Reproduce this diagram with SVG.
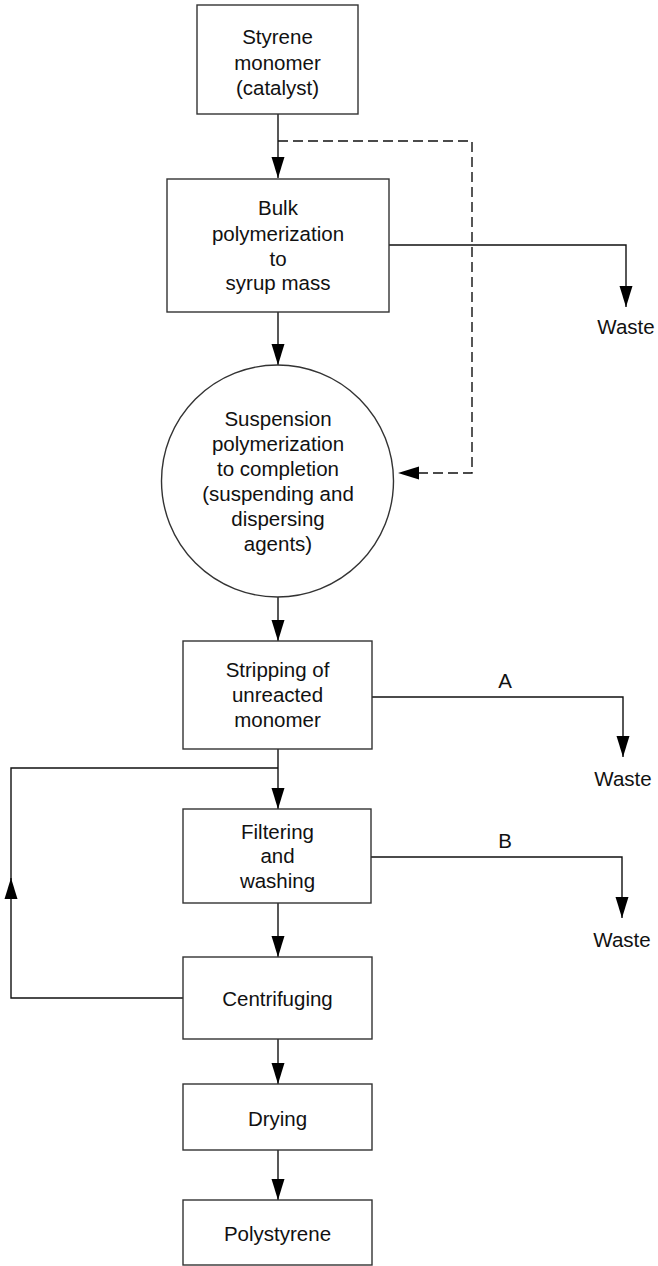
<svg xmlns="http://www.w3.org/2000/svg" width="658" height="1266" viewBox="0 0 658 1266">
  <style>
    .box { fill: #fff; stroke: #333; stroke-width: 1.4; }
    .lbl { font-family: "Liberation Sans", Arial, Helvetica, sans-serif; font-size: 20.5px; fill: #111; text-anchor: middle; }
    .flow { fill: none; stroke: #111; stroke-width: 1.4; }
    .dash { stroke-dasharray: 10 5; }
  </style>
  <defs>
    <marker id="arrow" markerUnits="userSpaceOnUse" markerWidth="21" markerHeight="14" refX="21" refY="7" orient="auto">
      <path d="M0,0.5 L21,7 L0,13.5 Z" fill="#000"/>
    </marker>
  </defs>

  <rect width="658" height="1266" fill="#fff"/>

  <g id="connectors">
    <path class="flow" d="M278,114 V178" marker-end="url(#arrow)"/>
    <path class="flow dash" d="M278,141 H472 V473 H398" marker-end="url(#arrow)"/>
    <path class="flow" d="M389,245 H626 V307" marker-end="url(#arrow)"/>
    <path class="flow" d="M278,312 V365" marker-end="url(#arrow)"/>
    <path class="flow" d="M278,597 V641" marker-end="url(#arrow)"/>
    <path class="flow" d="M372,697 H623 V757" marker-end="url(#arrow)"/>
    <path class="flow" d="M278,749 V809" marker-end="url(#arrow)"/>
    <path class="flow" d="M183,998 H11 V878" marker-end="url(#arrow)"/>
    <path class="flow" d="M11,880 V768 H278"/>
    <path class="flow" d="M371,857 H622 V918" marker-end="url(#arrow)"/>
    <path class="flow" d="M278,903 V957" marker-end="url(#arrow)"/>
    <path class="flow" d="M278,1039 V1084" marker-end="url(#arrow)"/>
    <path class="flow" d="M278,1150 V1200" marker-end="url(#arrow)"/>
    <text class="lbl" x="505" y="688">A</text>
    <text class="lbl" x="505" y="848">B</text>
  </g>

  <g id="styrene-monomer">
    <rect class="box" x="197" y="5" width="161" height="109"/>
    <text class="lbl" x="277.5" y="44">Styrene</text>
    <text class="lbl" x="277.5" y="69.5">monomer</text>
    <text class="lbl" x="277.5" y="95">(catalyst)</text>
  </g>

  <g id="bulk-polymerization">
    <rect class="box" x="167" y="179" width="222" height="133"/>
    <text class="lbl" x="278" y="215">Bulk</text>
    <text class="lbl" x="278" y="241">polymerization</text>
    <text class="lbl" x="278" y="266">to</text>
    <text class="lbl" x="278" y="290">syrup mass</text>
  </g>

  <g id="waste-1">
    <text class="lbl" x="626" y="334">Waste</text>
  </g>

  <g id="suspension-polymerization">
    <circle class="box" cx="277.5" cy="481" r="116"/>
    <text class="lbl" x="278" y="426">Suspension</text>
    <text class="lbl" x="278" y="451">polymerization</text>
    <text class="lbl" x="278" y="476">to completion</text>
    <text class="lbl" x="278" y="501">(suspending and</text>
    <text class="lbl" x="278" y="526">dispersing</text>
    <text class="lbl" x="278" y="551">agents)</text>
  </g>

  <g id="stripping">
    <rect class="box" x="183" y="641" width="189" height="108"/>
    <text class="lbl" x="277.5" y="677">Stripping of</text>
    <text class="lbl" x="277.5" y="702">unreacted</text>
    <text class="lbl" x="277.5" y="727">monomer</text>
  </g>

  <g id="waste-a">
    <text class="lbl" x="623" y="786">Waste</text>
  </g>

  <g id="filtering-washing">
    <rect class="box" x="183" y="809" width="188" height="94"/>
    <text class="lbl" x="277.5" y="839">Filtering</text>
    <text class="lbl" x="277.5" y="863">and</text>
    <text class="lbl" x="277.5" y="888">washing</text>
  </g>

  <g id="waste-b">
    <text class="lbl" x="622" y="947">Waste</text>
  </g>

  <g id="centrifuging">
    <rect class="box" x="183" y="957" width="189" height="82"/>
    <text class="lbl" x="277.5" y="1006">Centrifuging</text>
  </g>

  <g id="drying">
    <rect class="box" x="183" y="1084" width="189" height="66"/>
    <text class="lbl" x="277.5" y="1126">Drying</text>
  </g>

  <g id="polystyrene">
    <rect class="box" x="183" y="1200" width="189" height="65"/>
    <text class="lbl" x="277.5" y="1241">Polystyrene</text>
  </g>
</svg>
